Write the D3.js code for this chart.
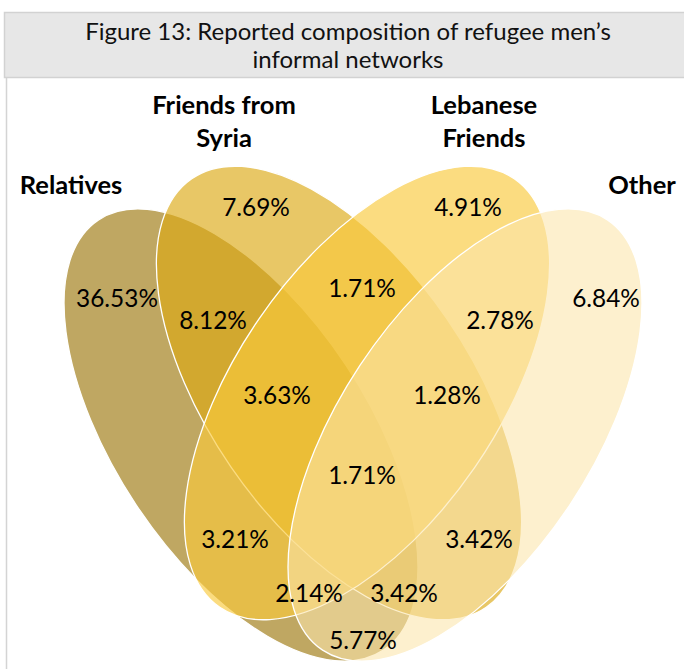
<!DOCTYPE html>
<html>
<head>
<meta charset="utf-8">
<script src="https://cdn.jsdelivr.net/npm/d3@7"></script>
<style>
  html, body { margin: 0; padding: 0; background: #ffffff; }
  svg { display: block; }
</style>
</head>
<body>
<svg id="chart" width="684" height="669"></svg>
<script>
// Title lines
const titleLines = ["Figure 13: Reported composition of refugee men\u2019s", "informal networks"];

// The four networks, drawn left to right
const setNames = ["Relatives", "Friends from Syria", "Lebanese Friends", "Other"];
const setLabelLines = [["Relatives"], ["Friends from", "Syria"], ["Lebanese", "Friends"], ["Other"]];
const setColors = ["#bfa762", "#dca914", "#f9ca3c", "#fce5ab"];
const setOpacity = [1, 0.65, 0.65, 0.58];

// Share of respondents per region (sets: A Relatives, B Friends from Syria, C Lebanese, D Other)
const regionKeys = ["A", "B", "C", "D", "AB", "BC", "CD", "ABC", "BCD", "ABCD", "AC", "BD", "ACD", "ABD", "AD"];
const regionValues = [36.53, 7.69, 4.91, 6.84, 8.12, 1.71, 2.78, 3.63, 1.28, 1.71, 3.21, 3.42, 2.14, 3.42, 5.77];

// ---- layout (pixel geometry of the diagram) ----
const W = 684, H = 669;
const svg = d3.select("#chart");

// ellipse geometry: centre, semi-axes, rotation
const ellipses = [
  { cx: 241, cy: 435, rx: 258, ry: 126, rot: 56.5 },
  { cx: 339, cy: 393, rx: 260, ry: 131, rot: 55.5 },
  { cx: 367, cy: 393, rx: 260, ry: 131, rot: -55.5 },
  { cx: 465, cy: 435, rx: 258, ry: 126, rot: -56.5 }
];

// label anchors (centre of each text)
const regionLabelPos = {
  A: [117, 298], B: [256, 207], C: [468, 207], D: [606, 298],
  AB: [213, 320], BC: [362, 288], CD: [500, 320],
  ABC: [277, 395], BCD: [447, 395], ABCD: [362, 475],
  AC: [235, 539], BD: [479, 539], ACD: [309, 593], ABD: [404, 593], AD: [363, 640]
};
const setLabelPos = [[71, 185], [224, 105], [484, 105], [642, 185]];

const FONT = "Lato, 'Open Sans', sans-serif";

// frame + title box
svg.append("line")
  .attr("x1", 6.5).attr("x2", 6.5).attr("y1", 78).attr("y2", H)
  .attr("stroke", "#d4d4d4").attr("stroke-width", 1.5);

svg.append("rect")
  .attr("x", 4.5).attr("y", 12.5).attr("width", W).attr("height", 65)
  .attr("fill", "#e7e7e7").attr("stroke", "#d2d2d2").attr("stroke-width", 1.5);

svg.append("g").selectAll("text")
  .data(titleLines)
  .join("text")
  .attr("x", 348)
  .attr("y", (d, i) => 39.5 + i * 28.5)
  .attr("text-anchor", "middle")
  .attr("font-family", FONT)
  .attr("font-size", 24)
  .attr("fill", "#111")
  .text(d => d);

// ellipses
svg.append("g").selectAll("ellipse")
  .data(ellipses)
  .join("ellipse")
  .attr("cx", d => d.cx).attr("cy", d => d.cy)
  .attr("rx", d => d.rx).attr("ry", d => d.ry)
  .attr("transform", d => `rotate(${d.rot},${d.cx},${d.cy})`)
  .attr("fill", (d, i) => setColors[i])
  .attr("fill-opacity", (d, i) => setOpacity[i])
  .attr("stroke", "#ffffff")
  .attr("stroke-width", 1.3);

// set names
const nameG = svg.append("g");
setLabelLines.forEach((lines, i) => {
  const [x, y] = setLabelPos[i];
  nameG.append("text")
    .attr("text-anchor", "middle")
    .attr("font-family", FONT)
    .attr("font-weight", "bold")
    .attr("font-size", 25.5)
    .attr("fill", "#000")
    .selectAll("tspan")
    .data(lines)
    .join("tspan")
    .attr("x", x)
    .attr("y", (d, j) => y + 9 + j * 33)
    .text(d => d);
});

// region values
const fmt = d3.format(".2f");
svg.append("g").selectAll("text")
  .data(regionKeys.map((k, i) => ({ key: k, value: regionValues[i] })))
  .join("text")
  .attr("x", d => regionLabelPos[d.key][0])
  .attr("y", d => regionLabelPos[d.key][1] + 8.5)
  .attr("text-anchor", "middle")
  .attr("font-family", FONT)
  .attr("font-size", 24.4)
  .attr("fill", "#000")
  .text(d => fmt(d.value) + "%");
</script>
</body>
</html>
